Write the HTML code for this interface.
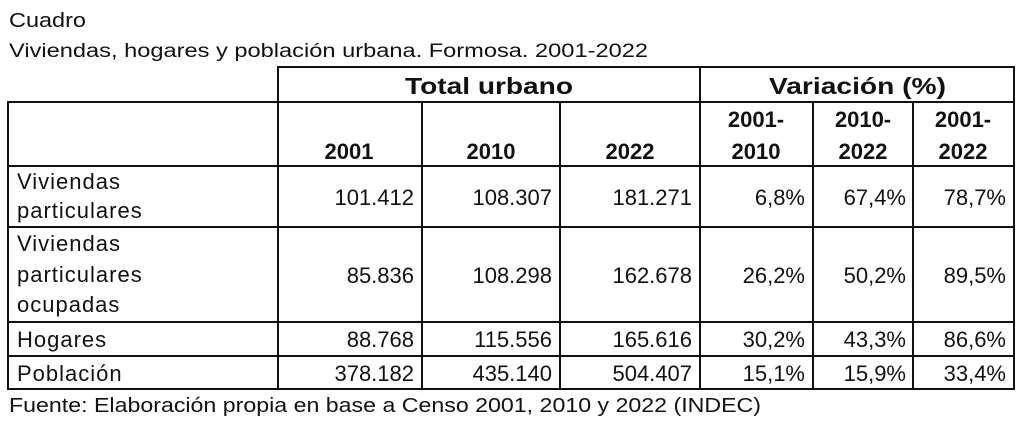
<!DOCTYPE html>
<html><head><meta charset="utf-8"><style>
html,body{margin:0;padding:0;background:#fff;}
svg{display:block;}
text{font-family:"Liberation Sans",Arial,sans-serif;fill:#111;}
.n{font-size:22px;text-anchor:end;}
.h{font-size:22px;font-weight:bold;text-anchor:middle;}
.l{font-size:22px;letter-spacing:1px;}
</style></head><body>
<svg width="1024" height="429" viewBox="0 0 1024 429">
<g stroke="#111" stroke-width="2" fill="none">
<polyline points="278,102 278,67 1014,67 1014,389 8,389 8,102 1014,102"/>
<line x1="700" y1="67" x2="700" y2="389"/>
<line x1="278" y1="102" x2="278" y2="389"/>
<line x1="422" y1="102" x2="422" y2="389"/>
<line x1="560" y1="102" x2="560" y2="389"/>
<line x1="813" y1="102" x2="813" y2="389"/>
<line x1="913" y1="102" x2="913" y2="389"/>
<line x1="8" y1="166" x2="1014" y2="166"/>
<line x1="8" y1="227" x2="1014" y2="227"/>
<line x1="8" y1="322" x2="1014" y2="322"/>
<line x1="8" y1="356" x2="1014" y2="356"/>
</g>
<text x="9" y="27" font-size="20" textLength="77" lengthAdjust="spacingAndGlyphs">Cuadro</text>
<text x="9" y="57" font-size="19" textLength="639" lengthAdjust="spacingAndGlyphs">Viviendas, hogares y población urbana. Formosa. 2001-2022</text>
<text x="405" y="94" font-size="23" font-weight="bold" textLength="168" lengthAdjust="spacingAndGlyphs">Total urbano</text>
<text x="769" y="94" font-size="23" font-weight="bold" textLength="177" lengthAdjust="spacingAndGlyphs">Variación (%)</text>
<text class="h" x="349" y="159">2001</text>
<text class="h" x="491" y="159">2010</text>
<text class="h" x="630" y="159">2022</text>
<text class="h" x="756" y="127">2001-</text><text class="h" x="756" y="159">2010</text>
<text class="h" x="863" y="127">2010-</text><text class="h" x="863" y="159">2022</text>
<text class="h" x="963" y="127">2001-</text><text class="h" x="963" y="159">2022</text>

<text class="l" x="17" y="189">Viviendas</text>
<text class="l" x="17" y="218">particulares</text>
<text class="n" x="414" y="205">101.412</text><text class="n" x="552" y="205">108.307</text><text class="n" x="692" y="205">181.271</text>
<text class="n" x="805" y="205">6,8%</text><text class="n" x="906" y="205">67,4%</text><text class="n" x="1006" y="205">78,7%</text>

<text class="l" x="17" y="251">Viviendas</text>
<text class="l" x="17" y="282">particulares</text>
<text class="l" x="17" y="312">ocupadas</text>
<text class="n" x="414" y="283">85.836</text><text class="n" x="552" y="283">108.298</text><text class="n" x="692" y="283">162.678</text>
<text class="n" x="805" y="283">26,2%</text><text class="n" x="906" y="283">50,2%</text><text class="n" x="1006" y="283">89,5%</text>

<text class="l" x="17" y="347">Hogares</text>
<text class="n" x="414" y="347">88.768</text><text class="n" x="552" y="347">115.556</text><text class="n" x="692" y="347">165.616</text>
<text class="n" x="805" y="347">30,2%</text><text class="n" x="906" y="347">43,3%</text><text class="n" x="1006" y="347">86,6%</text>

<text class="l" x="17" y="381">Población</text>
<text class="n" x="414" y="381">378.182</text><text class="n" x="552" y="381">435.140</text><text class="n" x="692" y="381">504.407</text>
<text class="n" x="805" y="381">15,1%</text><text class="n" x="906" y="381">15,9%</text><text class="n" x="1006" y="381">33,4%</text>

<text x="9" y="412" font-size="20" textLength="752" lengthAdjust="spacingAndGlyphs">Fuente: Elaboración propia en base a Censo 2001, 2010 y 2022 (INDEC)</text>
</svg>
</body></html>
